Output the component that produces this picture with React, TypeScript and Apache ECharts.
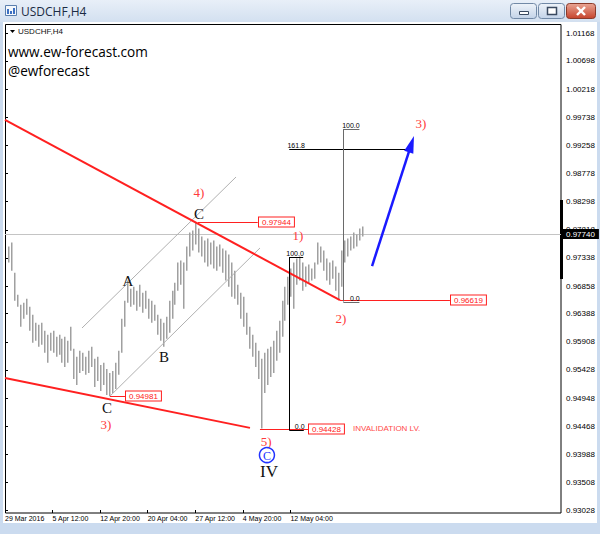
import React, { useEffect, useRef } from "react";
import * as echarts from "echarts";

// ---- data (USDCHF H4, one bar per 8 hours, x in H4-bar units from 29 Mar 2016) ----
const barHighs = [
  0.97532, 0.976, 0.97087, 0.96711, 0.9654, 0.96574, 0.96643, 0.96506, 0.96369, 0.96232,
  0.96198, 0.96232, 0.96096, 0.96027, 0.96062, 0.96096, 0.95993, 0.96027, 0.95959, 0.95993,
  0.95925, 0.96164, 0.95788, 0.95651, 0.95754, 0.9572, 0.95651, 0.95754, 0.95822, 0.95617,
  0.95651, 0.95514, 0.95549, 0.95446, 0.95378, 0.95412, 0.95549, 0.95754, 0.96301, 0.96609,
  0.96951, 0.96814, 0.96848, 0.9678, 0.96882, 0.96745, 0.9678, 0.96643, 0.96609, 0.9654,
  0.96369, 0.96301, 0.96232, 0.96335, 0.96609, 0.9678, 0.96916, 0.97258, 0.97292, 0.97258,
  0.97532, 0.97771, 0.97805, 0.97944, 0.97839, 0.97703, 0.97634, 0.97668, 0.976, 0.97634,
  0.97532, 0.97566, 0.97498, 0.97463, 0.97395, 0.97258, 0.97121, 0.96882, 0.96745, 0.96677,
  0.96403, 0.96164, 0.96027, 0.95891, 0.95754, 0.95617, 0.9572, 0.95788, 0.95822, 0.95925,
  0.96096, 0.96267, 0.96609, 0.96848, 0.97019, 0.97156, 0.97258, 0.97327, 0.97361, 0.97258,
  0.9719, 0.97224, 0.97156, 0.97258, 0.976, 0.97532, 0.97463, 0.97327, 0.97258, 0.97292,
  0.9719, 0.97087, 0.97463, 0.97634, 0.97668, 0.97703, 0.97771, 0.97737, 0.97839, 0.97874,
];
const barLows = [
  0.97258, 0.97121, 0.96609, 0.96506, 0.96164, 0.96301, 0.96369, 0.96096, 0.95891, 0.95925,
  0.95822, 0.95856, 0.9572, 0.95549, 0.95754, 0.9572, 0.95651, 0.95685, 0.95549, 0.9548,
  0.95549, 0.95754, 0.95275, 0.95173, 0.95378, 0.95412, 0.95344, 0.95378, 0.9548, 0.95138,
  0.95241, 0.9507, 0.95173, 0.95002, 0.94981, 0.95036, 0.95104, 0.95344, 0.9572, 0.96164,
  0.96574, 0.96506, 0.9654, 0.96438, 0.96506, 0.96403, 0.96472, 0.96301, 0.96232, 0.96267,
  0.96027, 0.95925, 0.95822, 0.95959, 0.96062, 0.96301, 0.9654, 0.9678, 0.96882, 0.96472,
  0.97121, 0.97361, 0.97463, 0.97566, 0.97429, 0.97361, 0.97258, 0.9719, 0.97224, 0.97156,
  0.97121, 0.9719, 0.97087, 0.96951, 0.96848, 0.96677, 0.96643, 0.9654, 0.96301, 0.96164,
  0.96027, 0.95788, 0.95651, 0.9548, 0.95275, 0.94428, 0.95036, 0.95173, 0.95309, 0.95378,
  0.95583, 0.9572, 0.95993, 0.96267, 0.9654, 0.96677, 0.96472, 0.96882, 0.96951, 0.9678,
  0.96848, 0.96916, 0.96951, 0.96985, 0.97224, 0.97258, 0.97121, 0.96951, 0.96882, 0.96985,
  0.9678, 0.96619, 0.96848, 0.97258, 0.97361, 0.97463, 0.97498, 0.97532, 0.97634, 0.97703,
];
const lastPrice = 0.9774;

const priceTickLabels = [
  "0.93028", "0.93508", "0.93988", "0.94468", "0.94948", "0.95428", "0.95908", "0.96388", "0.96858",
  "0.97338", "0.97818", "0.98298", "0.98778", "0.99258", "0.99738", "1.00218", "1.00698", "1.01168",
];
const timeTickLabels = [
  "29 Mar 2016", "5 Apr 12:00", "12 Apr 20:00", "20 Apr 04:00", "27 Apr 12:00", "4 May 20:00", "12 May 04:00",
];
const timeTickIndex = [0, 32, 64, 96, 128, 160, 192];

// ---- annotations, in [bar index, price] ----
const redTrendLines = [
  [0, 0.9969, 225.3, 0.96619],
  [0, 0.9529, 164.8, 0.9444],
];
const channelLines = [
  [51.8, 0.96143, 155.4, 0.98718],
  [70.6, 0.94981, 171.5, 0.97507],
];
const priceTags = [
  { price: 0.97944, from: 129.8, to: 170.0 },
  { price: 0.94981, from: 70.6, to: 80.7 },
  { price: 0.94428, from: 171.5, to: 203.8 },
  { price: 0.96619, from: 225.3, to: 299.3 },
];
const fibLinesA = [
  [191.2, 0.94404, 191.2, 0.97353],
  [191.2, 0.97353, 200.6, 0.97353],
  [191.2, 0.94404, 201.0, 0.94404],
  [191.2, 0.9919, 270.4, 0.9919],
];
const fibLinesB = [
  [227.6, 0.96595, 227.6, 0.99536],
  [227.6, 0.99536, 238.4, 0.99536],
  [227.6, 0.96595, 238.4, 0.96595],
];
const fibLabels = [
  { text: "100.0", idx: 201.0, price: 0.97353 },
  { text: "0.0", idx: 201.5, price: 0.94404 },
  { text: "161.8", idx: 201.8, price: 0.9919 },
  { text: "100.0", idx: 238.6, price: 0.99536 },
  { text: "0.0", idx: 238.6, price: 0.96595 },
];
const projectionArrow = [[246.9, 0.972, 275.1, 0.99417]];
const redWaveLabels = [
  { text: "4)", idx: 130.5, price: 0.98462 },
  { text: "3)", idx: 67.9, price: 0.94506 },
  { text: "1)", idx: 197.1, price: 0.97712 },
  { text: "2)", idx: 226.0, price: 0.96313 },
  { text: "5)", idx: 175.6, price: 0.94215 },
  { text: "3)", idx: 279.8, price: 0.99638 },
];
const blackWaveLabels = [
  { text: "C", idx: 130.5, price: 0.98087 },
  { text: "A", idx: 82.7, price: 0.96944 },
  { text: "B", idx: 107.0, price: 0.95648 },
  { text: "C", idx: 68.6, price: 0.94779 },
];
const degreeLabels = [{ text: "IV", idx: 177.6, price: 0.93704 }];
const circledLabels = [{ text: "C", idx: 176.2, price: 0.93977 }];
const invalidationNote = [{ text: "INVALIDATION LV.", idx: 234.1, price: 0.94428 }];

const RED = "#ff2020";
const LABEL_RED = "#ff3b3b";
const SANS = '"Liberation Sans", Arial, sans-serif';
const SERIF = '"Liberation Serif", "Times New Roman", serif';
const X_MAX = 374;

function crisp(v: number) {
  return Math.round(v) + 0.5;
}

function segmentSeries(rows: number[][], color: string, width: number, z = 3) {
  return {
    type: "custom",
    silent: true,
    z,
    encode: { x: [0, 2], y: [1, 3] },
    data: rows,
    renderItem: (_p: any, api: any) => {
      const a = api.coord([api.value(0), api.value(1)]);
      const b = api.coord([api.value(2), api.value(3)]);
      let x1 = a[0], y1 = a[1], x2 = b[0], y2 = b[1];
      if (width === 1) {
        if (Math.abs(y1 - y2) < 0.01) { y1 = crisp(y1); y2 = y1; }
        if (Math.abs(x1 - x2) < 0.01) { x1 = crisp(x1); x2 = x1; }
      }
      return { type: "line", shape: { x1, y1, x2, y2 }, style: { stroke: color, lineWidth: width } };
    },
  };
}

function textSeries(items: { text: string; idx: number; price: number }[], style: any, z = 6) {
  return {
    type: "custom",
    silent: true,
    z,
    encode: { x: 0, y: 1 },
    data: items.map((d) => [d.idx, d.price]),
    renderItem: (p: any, api: any) => {
      const c = api.coord([api.value(0), api.value(1)]);
      return {
        type: "text",
        x: c[0],
        y: c[1],
        style: { text: items[p.dataIndex].text, ...style },
      };
    },
  };
}

export default function App() {
  const ref = useRef<HTMLDivElement>(null);

  useEffect(() => {
    if (!ref.current) return;
    const chart = echarts.init(ref.current, null, { renderer: "svg" });
    const bars = barHighs.map((h, i) => [2 * (i + 1), h, barLows[i]]);
    const priceTickValues = priceTickLabels.map((s) => parseFloat(s));
    const btnFill = {
      type: "linear", x: 0, y: 0, x2: 0, y2: 1,
      colorStops: [{ offset: 0, color: "#eef3f9" }, { offset: 1, color: "#c3d3e8" }],
    };

    const option: any = {
      animation: false,
      grid: { left: 5, right: 39, top: 33.3, bottom: 23.3, containLabel: false },
      xAxis: {
        type: "value",
        min: 0,
        max: X_MAX,
        offset: 2.3,
        axisLine: { show: false },
        splitLine: { show: false },
        axisTick: {
          show: true,
          inside: true,
          length: 3,
          customValues: timeTickIndex,
          lineStyle: { color: "#000" },
        },
        axisLabel: {
          customValues: timeTickIndex,
          formatter: (v: number) => timeTickLabels[timeTickIndex.indexOf(Math.round(v))] ?? "",
          align: "left",
          margin: 2,
          fontSize: 7,
          fontFamily: SANS,
          color: "#000",
        },
      },
      yAxis: {
        type: "value",
        position: "right",
        min: 0.93028,
        max: 1.01168,
        scale: true,
        axisLine: { show: false },
        splitLine: { show: false },
        axisTick: { show: true, length: 3, customValues: priceTickValues, lineStyle: { color: "#000" } },
        axisLabel: {
          customValues: priceTickValues,
          formatter: (v: number) => v.toFixed(5),
          margin: 5,
          fontSize: 8,
          fontFamily: SANS,
          color: "#000",
        },
      },
      graphic: [
        // title bar
        {
          type: "rect",
          silent: true,
          shape: { x: 0, y: 0, width: 600, height: 22 },
          style: {
            fill: {
              type: "linear", x: 0, y: 0, x2: 0, y2: 1,
              colorStops: [{ offset: 0, color: "#e8eff8" }, { offset: 1, color: "#d3e0f0" }],
            },
          },
        },
        { type: "rect", silent: true, shape: { x: 5.5, y: 5.5, width: 11, height: 10 }, style: { fill: "#f4f8fc", stroke: "#5b7fae", lineWidth: 1 } },
        { type: "rect", silent: true, shape: { x: 7, y: 9, width: 2, height: 5 }, style: { fill: "#3b6fc2" } },
        { type: "rect", silent: true, shape: { x: 10, y: 11, width: 2, height: 3 }, style: { fill: "#3b6fc2" } },
        { type: "rect", silent: true, shape: { x: 13, y: 8, width: 2, height: 6 }, style: { fill: "#3b6fc2" } },
        {
          type: "text", silent: true, x: 21, y: 11.5,
          style: { text: "USDCHF,H4", fontSize: 12, fontFamily: '"Open Sans", sans-serif', fill: "#1b2b44", verticalAlign: "middle" },
        },
        // window buttons
        { type: "rect", silent: true, shape: { x: 510.5, y: 3.5, width: 26, height: 15, r: 3 }, style: { fill: btnFill, stroke: "#7189a6" } },
        { type: "rect", silent: true, shape: { x: 519.5, y: 11.5, width: 9, height: 3 }, style: { fill: "#fff", stroke: "#3a4a60" } },
        { type: "rect", silent: true, shape: { x: 538.5, y: 3.5, width: 26, height: 15, r: 3 }, style: { fill: btnFill, stroke: "#7189a6" } },
        { type: "rect", silent: true, shape: { x: 547.5, y: 7.5, width: 9, height: 7 }, style: { fill: "#fff", stroke: "#3a4a60", lineWidth: 1.5 } },
        {
          type: "rect", silent: true, shape: { x: 566.5, y: 3.5, width: 29, height: 15, r: 3 },
          style: { fill: { type: "linear", x: 0, y: 0, x2: 0, y2: 1, colorStops: [{ offset: 0, color: "#e9a594" }, { offset: 1, color: "#c6432c" }] }, stroke: "#8a3a2a" },
        },
        { type: "line", silent: true, shape: { x1: 577, y1: 7, x2: 585, y2: 15 }, style: { stroke: "#fff", lineWidth: 2.4 } },
        { type: "line", silent: true, shape: { x1: 585, y1: 7, x2: 577, y2: 15 }, style: { stroke: "#fff", lineWidth: 2.4 } },
        // chart frame
        {
          type: "rect", silent: true, shape: { x: 5.5, y: 24.5, width: 555.5, height: 488.5 },
          style: { fill: "none", stroke: "#000", lineWidth: 1 },
        },
        { type: "rect", silent: true, shape: { x: 560, y: 200, width: 3, height: 79 }, style: { fill: "#000" } },
        // symbol caption
        { type: "polygon", silent: true, shape: { points: [[10, 30], [15, 30], [12.5, 33]] }, style: { fill: "#000" } },
        {
          type: "text", silent: true, x: 18, y: 31.5,
          style: { text: "USDCHF,H4", fontSize: 8, fontFamily: SANS, fill: "#111", verticalAlign: "middle" },
        },
        {
          type: "text", silent: true, x: 8, y: 51,
          style: { text: "www.ew-forecast.com", fontSize: 13.6, fontFamily: '"Open Sans", sans-serif', fill: "#000", verticalAlign: "middle" },
        },
        {
          type: "text", silent: true, x: 8, y: 70,
          style: { text: "@ewforecast", fontSize: 13.6, fontFamily: '"Open Sans", sans-serif', fill: "#000", verticalAlign: "middle" },
        },
      ],
      series: [
        // current price (bid) line with its scale tag
        {
          type: "custom",
          silent: true,
          z: 1,
          encode: { x: 0, y: 1 },
          data: [[0, lastPrice]],
          renderItem: (_p: any, api: any) => {
            const a = api.coord([0, api.value(1)]);
            const b = api.coord([X_MAX, api.value(1)]);
            const y = crisp(a[1]);
            return {
              type: "group",
              children: [
                { type: "line", shape: { x1: a[0], y1: y, x2: b[0], y2: y }, style: { stroke: "#c4c4c4", lineWidth: 1 } },
                {
                  type: "text", x: Math.round(b[0]), y: Math.round(a[1]), z2: 10,
                  style: {
                    text: api.value(1).toFixed(5), fontSize: 8, fontFamily: SANS, fill: "#fff",
                    backgroundColor: "#000", padding: [1, 4, 1, 5], align: "left", verticalAlign: "middle",
                  },
                },
              ],
            };
          },
        },
        {
          type: "custom",
          name: "USDCHF",
          z: 2,
          encode: { x: 0, y: [1, 2] },
          data: bars,
          renderItem: (_p: any, api: any) => {
            const hi = api.coord([api.value(0), api.value(1)]);
            const lo = api.coord([api.value(0), api.value(2)]);
            const x = Math.round(hi[0]) + 0.75;
            return { type: "line", shape: { x1: x, y1: hi[1], x2: x, y2: lo[1] }, style: { stroke: "#a0a0a0", lineWidth: 1.5 } };
          },
        },
        segmentSeries(channelLines, "#b0b0b0", 1, 3),
        segmentSeries(redTrendLines, RED, 2, 4),
        segmentSeries(priceTags.map((t) => [t.from, t.price, t.to, t.price]), RED, 1, 4),
        segmentSeries(fibLinesA, "#000", 1, 5),
        segmentSeries(fibLinesB, "#6a6a6a", 1, 5),
        {
          type: "custom",
          silent: true,
          z: 7,
          encode: { x: 0, y: 1 },
          data: priceTags.map((t) => [t.to, t.price]),
          renderItem: (p: any, api: any) => {
            const c = api.coord([api.value(0), api.value(1)]);
            return {
              type: "text",
              x: Math.round(c[0]) + 1,
              y: Math.round(c[1]),
              style: {
                text: priceTags[p.dataIndex].price.toFixed(5),
                fontSize: 8,
                fontFamily: SANS,
                fill: RED,
                backgroundColor: "#fff",
                borderColor: RED,
                borderWidth: 1,
                padding: [1, 3, 0, 3],
                align: "left",
                verticalAlign: "middle",
              },
            };
          },
        },
        textSeries(fibLabels, { fontSize: 7, fontFamily: SANS, fill: "#000", align: "right", verticalAlign: "bottom" }),
        textSeries(invalidationNote, { fontSize: 8, fontFamily: SANS, fill: "#ff4a4a", align: "left", verticalAlign: "middle" }),
        textSeries(redWaveLabels, { fontSize: 13, fontFamily: SERIF, fill: LABEL_RED, align: "center", verticalAlign: "middle" }),
        textSeries(blackWaveLabels, { fontSize: 15, fontFamily: SERIF, fill: "#111", align: "center", verticalAlign: "middle" }),
        textSeries(degreeLabels, { fontSize: 17, fontFamily: SERIF, fill: "#111", align: "center", verticalAlign: "middle" }),
        {
          type: "custom",
          silent: true,
          z: 6,
          encode: { x: 0, y: 1 },
          data: circledLabels.map((d) => [d.idx, d.price]),
          renderItem: (p: any, api: any) => {
            const c = api.coord([api.value(0), api.value(1)]);
            return {
              type: "group",
              children: [
                { type: "circle", shape: { cx: c[0], cy: c[1], r: 7.5 }, style: { fill: "none", stroke: "#2233ff", lineWidth: 1.5 } },
                {
                  type: "text", x: c[0], y: c[1] + 0.5,
                  style: { text: circledLabels[p.dataIndex].text, fontSize: 12, fontFamily: SERIF, fill: "#2233ff", align: "center", verticalAlign: "middle" },
                },
              ],
            };
          },
        },
        {
          type: "custom",
          silent: true,
          z: 8,
          encode: { x: [0, 2], y: [1, 3] },
          data: projectionArrow,
          renderItem: (_p: any, api: any) => {
            const a = api.coord([api.value(0), api.value(1)]);
            const b = api.coord([api.value(2), api.value(3)]);
            const dx = b[0] - a[0];
            const dy = b[1] - a[1];
            const len = Math.hypot(dx, dy);
            const ux = dx / len, uy = dy / len;
            const hl = 17, hw = 4.8;
            const bx = b[0] - ux * hl, by = b[1] - uy * hl;
            const nx = -uy, ny = ux;
            return {
              type: "group",
              children: [
                { type: "line", shape: { x1: a[0], y1: a[1], x2: bx + ux * 2, y2: by + uy * 2 }, style: { stroke: "#1a1aff", lineWidth: 2.5 } },
                {
                  type: "polygon",
                  shape: { points: [[b[0], b[1]], [bx + nx * hw, by + ny * hw], [bx - nx * hw, by - ny * hw]] },
                  style: { fill: "#1a1aff" },
                },
              ],
            };
          },
        },
      ],
    };

    chart.setOption(option);
    return () => chart.dispose();
  }, []);

  return (
    <div style={{ position: "absolute", left: 0, top: 0, width: 600, height: 534, background: "#cbdbef" }}>
      <div style={{ position: "absolute", left: 3, top: 22, width: 594, height: 501, background: "#fff" }} />
      <div ref={ref} style={{ position: "absolute", left: 0, top: 0, width: 600, height: 534 }} />
    </div>
  );
}
